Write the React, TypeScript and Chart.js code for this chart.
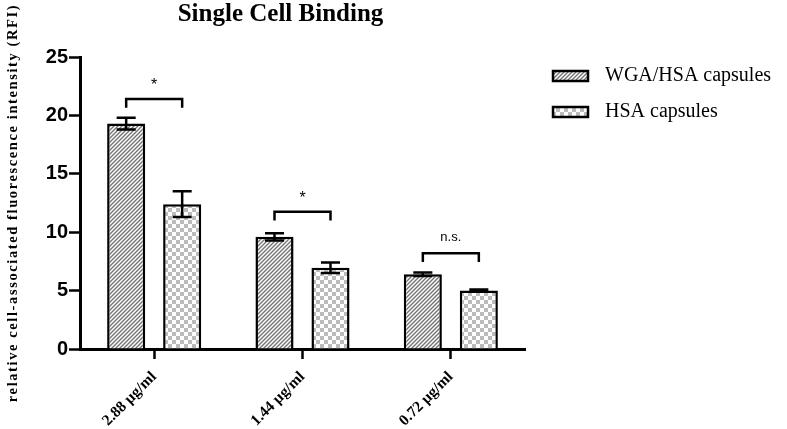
import React, { useEffect, useRef } from "react";
import { Chart, registerables } from "chart.js";

Chart.register(...registerables);

const categories = ["2.88 µg/ml", "1.44 µg/ml", "0.72 µg/ml"];
const seriesNames = ["WGA/HSA capsules", "HSA capsules"];
const wgaValues = [19.3, 9.6, 6.4];
const wgaErrors = [0.5, 0.3, 0.15];
const hsaValues = [12.4, 6.95, 5.0];
const hsaErrors = [1.1, 0.45, 0.1];
const yTicks = [0, 5, 10, 15, 20, 25];
const bracketLevels = [21.4, 11.75, 8.2];
const bracketLabels = ["*", "*", "n.s."];
const titleText = "Single Cell Binding";
const yTitleText = "relative cell-associated fluorescence intensity (RFI)";

function makeHatch(): CanvasPattern | string {
  const c = document.createElement("canvas");
  const s = 4;
  c.width = s;
  c.height = s;
  const g = c.getContext("2d");
  if (!g) return "#888";
  g.fillStyle = "#ffffff";
  g.fillRect(0, 0, s, s);
  g.strokeStyle = "#747474";
  g.lineWidth = 1.4;
  g.beginPath();
  g.moveTo(0, s);
  g.lineTo(s, 0);
  g.moveTo(-1, 1);
  g.lineTo(1, -1);
  g.moveTo(s - 1, s + 1);
  g.lineTo(s + 1, s - 1);
  g.stroke();
  return g.createPattern(c, "repeat") || "#888";
}

function makeChecker(): CanvasPattern | string {
  const c = document.createElement("canvas");
  const s = 8;
  c.width = s;
  c.height = s;
  const g = c.getContext("2d");
  if (!g) return "#ccc";
  g.fillStyle = "#ffffff";
  g.fillRect(0, 0, s, s);
  g.fillStyle = "#bbbbbb";
  g.fillRect(0, 0, 4, 4);
  g.fillRect(4, 4, 4, 4);
  return g.createPattern(c, "repeat") || "#ccc";
}

const errors = [wgaErrors, hsaErrors];

const overlayPlugin = {
  id: "overlay",
  afterDatasetsDraw(chart: any) {
    const ctx: CanvasRenderingContext2D = chart.ctx;
    const y = chart.scales.y;
    const area = chart.chartArea;
    ctx.save();
    ctx.strokeStyle = "#000";
    ctx.lineWidth = 2.5;
    ctx.lineCap = "butt";
    // error bars
    chart.data.datasets.forEach((ds: any, di: number) => {
      const meta = chart.getDatasetMeta(di);
      meta.data.forEach((bar: any, i: number) => {
        const v = ds.data[i];
        const e = errors[di][i];
        const yt = y.getPixelForValue(v + e);
        const yb = y.getPixelForValue(v - e);
        const half = bar.width / 4;
        ctx.beginPath();
        ctx.moveTo(bar.x, yt);
        ctx.lineTo(bar.x, yb);
        ctx.moveTo(bar.x - half, yt);
        ctx.lineTo(bar.x + half, yt);
        ctx.moveTo(bar.x - half, yb);
        ctx.lineTo(bar.x + half, yb);
        ctx.stroke();
      });
    });
    // significance brackets
    const m0 = chart.getDatasetMeta(0);
    const m1 = chart.getDatasetMeta(1);
    bracketLevels.forEach((lvl, i) => {
      const x0 = m0.data[i].x;
      const x1 = m1.data[i].x;
      const yy = y.getPixelForValue(lvl);
      const yd = y.getPixelForValue(lvl - 0.75);
      ctx.beginPath();
      ctx.moveTo(x0, yd);
      ctx.lineTo(x0, yy);
      ctx.lineTo(x1, yy);
      ctx.lineTo(x1, yd);
      ctx.stroke();
      ctx.fillStyle = "#000";
      ctx.textAlign = "center";
      ctx.textBaseline = "middle";
      const lab = bracketLabels[i];
      ctx.font = lab === "*" ? "16px 'Liberation Sans'" : "13px 'Liberation Sans'";
      ctx.fillText(lab, (x0 + x1) / 2, yy - (lab === "*" ? 13 : 16));
    });
    // legend
    const fills = chart.data.datasets.map((d: any) => d.backgroundColor);
    seriesNames.forEach((name, i) => {
      const sx = area.right + 28;
      const sy = area.top + 14 + i * 36;
      ctx.fillStyle = fills[i];
      ctx.fillRect(sx, sy, 35, 10);
      ctx.strokeRect(sx, sy, 35, 10);
      ctx.fillStyle = "#000";
      ctx.font = "20px 'Liberation Serif'";
      ctx.textAlign = "left";
      ctx.textBaseline = "middle";
      ctx.fillText(name, area.right + 80, sy + 5);
    });
    // title
    ctx.font = "bold 25px 'Liberation Serif'";
    ctx.textAlign = "center";
    ctx.textBaseline = "alphabetic";
    ctx.fillText(titleText, (area.left + area.right) / 2 - 22, 21);
    // y title
    ctx.translate(13, (area.top + area.bottom) / 2);
    ctx.rotate(-Math.PI / 2);
    (ctx as any).letterSpacing = "1.6px";
    ctx.font = "bold 14.5px 'Liberation Serif'";
    ctx.textAlign = "center";
    ctx.textBaseline = "middle";
    ctx.fillText(yTitleText, 0, 0);
    ctx.restore();
  },
};

export default function App() {
  const ref = useRef<HTMLCanvasElement | null>(null);
  useEffect(() => {
    if (!ref.current) return;
    const chart = new Chart(ref.current, {
      type: "bar",
      data: {
        labels: categories,
        datasets: [
          {
            label: seriesNames[0],
            data: wgaValues,
            backgroundColor: makeHatch() as any,
            borderColor: "#000",
            borderWidth: 2.5,
            categoryPercentage: 0.755,
            barPercentage: 0.68,
          },
          {
            label: seriesNames[1],
            data: hsaValues,
            backgroundColor: makeChecker() as any,
            borderColor: "#000",
            borderWidth: 2.5,
            categoryPercentage: 0.755,
            barPercentage: 0.68,
          },
        ],
      },
      options: {
        responsive: false,
        animation: false,
        devicePixelRatio: 1,
        layout: { padding: { left: 0, top: 57, right: 262, bottom: 0 } },
        plugins: {
          legend: { display: false },
          title: { display: false },
          tooltip: { enabled: false },
        },
        scales: {
          x: {
            afterFit: (s: any) => {
              s.height = 80;
            },
            grid: {
              display: true,
              drawOnChartArea: false,
              drawTicks: true,
              offset: false,
              tickLength: 10,
              tickWidth: 2.5,
              tickColor: "#000",
            },
            border: { display: true, color: "#000", width: 3 },
            ticks: {
              color: "#000",
              maxRotation: 45,
              minRotation: 45,
              padding: 9,
              font: { family: "'Liberation Serif'", size: 15.5, weight: "bold" },
            },
          },
          y: {
            min: 0,
            max: 25,
            afterFit: (s: any) => {
              s.width = 80;
            },
            afterBuildTicks: (s: any) => {
              s.ticks = yTicks.map((v) => ({ value: v }));
            },
            grid: {
              display: true,
              drawOnChartArea: false,
              drawTicks: true,
              tickLength: 11,
              tickWidth: 2.5,
              tickColor: "#000",
            },
            border: { display: true, color: "#000", width: 3 },
            ticks: {
              color: "#000",
              padding: 1,
              font: { family: "'Liberation Sans'", size: 20, weight: "bold" },
            },
          },
        },
      },
      plugins: [overlayPlugin],
    });
    return () => chart.destroy();
  }, []);
  return (
    <div style={{ position: "absolute", left: 0, top: 0, width: 787, height: 429 }}>
      <canvas ref={ref} width={787} height={429} style={{ display: "block" }} />
    </div>
  );
}
